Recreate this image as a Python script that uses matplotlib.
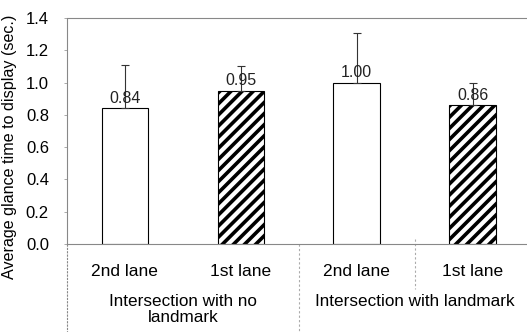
import matplotlib.pyplot as plt
import numpy as np

plt.rcParams['font.family'] = ['Liberation Sans', 'DejaVu Sans']
plt.rcParams['hatch.linewidth'] = 2.6

lanes = ['2nd lane', '1st lane', '2nd lane', '1st lane']
groups = ['Intersection with no\nlandmark', 'Intersection with landmark']
means = [0.84, 0.95, 1.00, 0.86]
errs = [0.27, 0.15, 0.31, 0.14]
labels = ['0.84', '0.95', '1.00', '0.86']
hatches = ['', '///', '', '///']

fig = plt.figure(figsize=(5.27, 3.32), dpi=100)
ax = fig.add_axes([67 / 527, 88 / 332, 460 / 527, 226 / 332])

x = np.arange(len(means))
for i in range(len(means)):
    ax.bar(x[i], means[i], width=0.4, color='white', edgecolor='black',
           hatch=hatches[i], linewidth=0.8, zorder=2)
    ax.errorbar(x[i], means[i], yerr=[[0], [errs[i]]], fmt='none',
                ecolor='#333333', elinewidth=0.8, capsize=3, capthick=0.8, zorder=3)
    ax.text(x[i], means[i] + 0.015, labels[i], ha='center', va='bottom',
            fontsize=11.5, color='#222222', zorder=4)

ax.set_xlim(-0.5, 3.47)
ax.set_ylim(0, 1.4)
ax.set_yticks(np.arange(0, 1.41, 0.2))
ax.set_yticklabels(['%.1f' % v for v in np.arange(0, 1.41, 0.2)], fontsize=12)
ax.set_xticks([])
ax.tick_params(axis='y', length=2, width=0.5, color='#888888', pad=11)
ax.set_ylabel('Average glance time to display (sec.)', fontsize=11.6, va='center')
ax.yaxis.set_label_coords(-57 / 460, 0.43)

for s in ['left', 'top', 'bottom']:
    ax.spines[s].set_linestyle((0, (2, 1)))
    ax.spines[s].set_color('#888888')
    ax.spines[s].set_linewidth(0.8)
ax.spines['right'].set_visible(False)

# category labels under the axis
for i in range(len(lanes)):
    ax.text(x[i], -0.12, lanes[i], ha='center', va='center', fontsize=12.5,
            transform=ax.get_xaxis_transform(), clip_on=False)
ax.text(0.5, -0.29, groups[0], ha='center', va='center', fontsize=12.3,
        transform=ax.get_xaxis_transform(), linespacing=1.05, clip_on=False)
ax.text(2.5, -0.255, groups[1], ha='center', va='center', fontsize=12.3,
        transform=ax.get_xaxis_transform(), clip_on=False)

# separators
tr = ax.get_xaxis_transform()
ax.plot([-0.5, -0.5], [0, -0.39], transform=tr, color='#888888', lw=0.8,
        ls=(0, (2, 1)), clip_on=False)
ax.plot([1.5, 1.5], [0, -0.39], transform=tr, color='#aaaaaa', lw=0.8,
        ls=(0, (2, 2)), clip_on=False)
ax.plot([2.5, 2.5], [0.02, -0.2], transform=tr, color='#aaaaaa', lw=0.8,
        ls=(0, (2, 2)), clip_on=False)

fig.savefig('out.png', dpi=100)
